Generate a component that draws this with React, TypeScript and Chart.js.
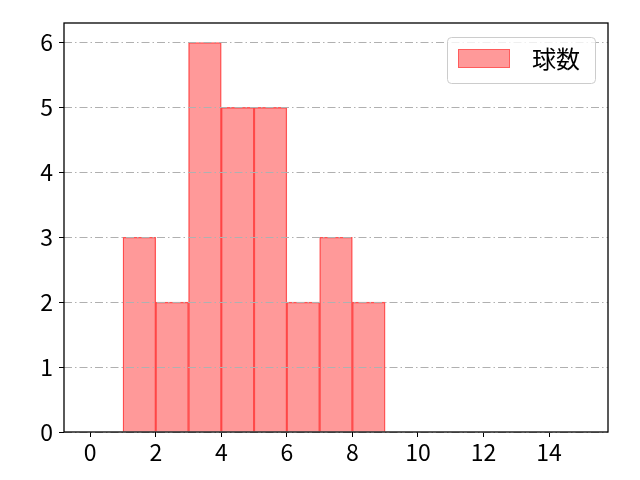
import { useEffect, useRef } from "react";
import { Chart, registerables } from "chart.js";

Chart.register(...registerables);

const binStarts = [1, 2, 3, 4, 5, 6, 7, 8];
const counts = [3, 2, 6, 5, 5, 2, 3, 2];
const xTicks = [0, 2, 4, 6, 8, 10, 12, 14];
const yTicks = [0, 1, 2, 3, 4, 5, 6];
const seriesLabel = "球数";
const xRange = [-0.8, 15.8];
const yRange = [0, 6.3];

const FONT = "'Noto Sans CJK JP', 'Noto Sans', sans-serif";
const FONT_SIZE = 23;

const framePlugin = {
  id: "frameAndLegend",
  afterDraw(chart: any) {
    const { ctx, chartArea } = chart;
    const { left, right, top, bottom } = chartArea;
    ctx.save();
    // legend
    const lw = 148;
    const lh = 46;
    const lx = right - 13 - lw;
    const ly = top + 14;
    ctx.beginPath();
    if ((ctx as any).roundRect) {
      (ctx as any).roundRect(lx + 0.5, ly + 0.5, lw, lh, 4);
    } else {
      ctx.rect(lx + 0.5, ly + 0.5, lw, lh);
    }
    ctx.fillStyle = "rgba(255,255,255,0.8)";
    ctx.fill();
    ctx.strokeStyle = "#cccccc";
    ctx.lineWidth = 1;
    ctx.stroke();
    // patch
    ctx.fillStyle = "rgba(255,0,0,0.4)";
    ctx.fillRect(lx + 11, ly + 12, 52, 19);
    ctx.strokeStyle = "rgba(255,0,0,0.4)";
    ctx.strokeRect(lx + 11.5, ly + 12.5, 51, 18);
    // text
    ctx.fillStyle = "#000000";
    ctx.font = `${FONT_SIZE + 1}px ${FONT}`;
    ctx.textAlign = "left";
    ctx.textBaseline = "middle";
    ctx.fillText(chart.data.datasets[0].label, lx + 85, ly + 22);
    // frame
    ctx.strokeStyle = "#000000";
    ctx.lineWidth = 1.3;
    ctx.strokeRect(left, top, right - left, bottom - top);
    ctx.restore();
  },
};

export default function App() {
  const ref = useRef<HTMLCanvasElement | null>(null);

  useEffect(() => {
    if (!ref.current) return;
    const chart = new Chart(ref.current, {
      type: "bar",
      data: {
        datasets: [
          {
            label: seriesLabel,
            data: binStarts.map((b, i) => ({ x: b + 0.5, y: counts[i] })),
            backgroundColor: "rgba(255,0,0,0.4)",
            borderColor: "rgba(255,0,0,0.6)",
            borderWidth: 0.7,
            barPercentage: 1,
            categoryPercentage: 1,
            grouped: false,
          } as any,
        ],
      },
      options: {
        animation: false,
        responsive: false,
        maintainAspectRatio: false,
        devicePixelRatio: 1,
        layout: { padding: { top: 23, right: 32, left: 0, bottom: 0 } },
        plugins: {
          legend: { display: false },
          tooltip: { enabled: false },
        },
        scales: {
          x: {
            type: "linear",
            offset: false,
            min: xRange[0],
            max: xRange[1],
            afterBuildTicks: (s: any) => {
              s.ticks = xTicks.map((v) => ({ value: v }));
            },
            afterFit: (s: any) => {
              s.height = 48;
            },
            grid: {
              display: true,
              offset: false,
              drawOnChartArea: false,
              drawTicks: true,
              tickLength: 5,
              tickColor: "#000000",
              tickWidth: 1,
              color: "#000000",
            },
            border: { display: false },
            ticks: {
              color: "#000000",
              font: { family: FONT, size: FONT_SIZE },
              padding: 1,
              maxRotation: 0,
              autoSkip: false,
            },
          },
          y: {
            type: "linear",
            min: yRange[0],
            max: yRange[1],
            afterBuildTicks: (s: any) => {
              s.ticks = yTicks.map((v) => ({ value: v }));
            },
            afterFit: (s: any) => {
              s.width = 64;
            },
            grid: {
              display: true,
              drawOnChartArea: true,
              drawTicks: true,
              tickLength: 5,
              tickColor: "#000000",
              tickWidth: 1,
              tickBorderDash: [],
              color: "#b0b0b0",
              lineWidth: 1,
              z: 1,
            } as any,
            border: { display: false, dash: [8, 3, 1.5, 3] },
            ticks: {
              color: "#000000",
              font: { family: FONT, size: FONT_SIZE },
              padding: 6,
              autoSkip: false,
            },
          },
        },
      },
      plugins: [framePlugin],
    });
    return () => chart.destroy();
  }, []);

  return (
    <div style={{ position: "absolute", left: 0, top: 0, width: 640, height: 480, background: "#fff" }}>
      <canvas ref={ref} width={640} height={480} style={{ width: 640, height: 480, display: "block" }} />
    </div>
  );
}
